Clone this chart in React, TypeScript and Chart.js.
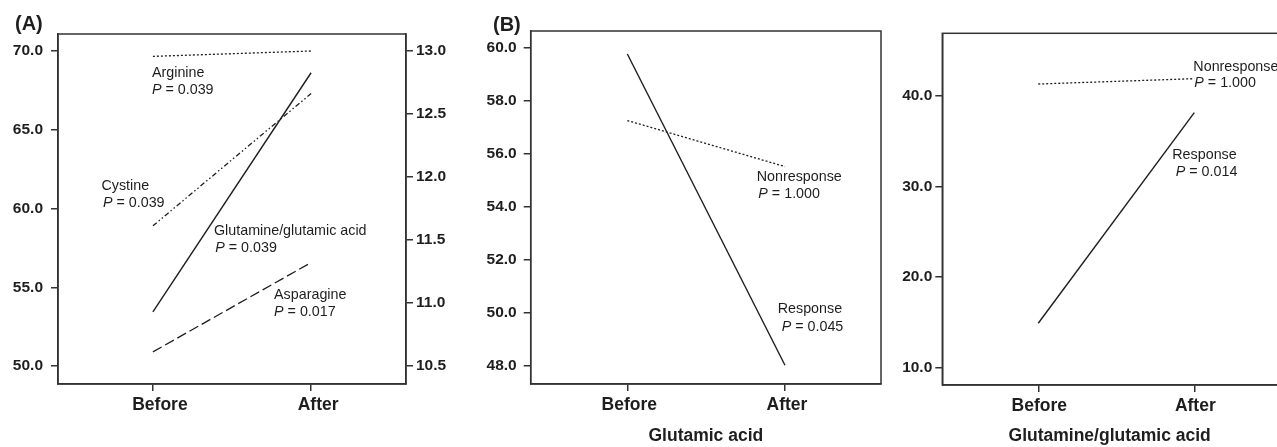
import React, { useEffect, useRef } from "react";
import { Chart, registerables } from "chart.js";

Chart.register(...registerables);

// ---------- data ----------
const xLabels = ["Before", "After"];

// Panel A
const arginine = [69.66, 70.0];
const cystine = [58.9, 67.3];
const glutamineGlutamicAcid = [53.44, 68.62];
const asparagine = [50.9, 56.57];
const leftTicksA = [50, 55, 60, 65, 70];
const rightTicksA = [10.5, 11.0, 11.5, 12.0, 12.5, 13.0];

// Panel B (glutamic acid)
const gluResponse = [59.78, 48.03];
const gluNonresponse = [57.27, 55.53];
const ticksB = [48, 50, 52, 54, 56, 58, 60];

// Panel C (glutamine/glutamic acid)
const glnGluResponse = [14.91, 38.16];
const glnGluNonresponse = [41.32, 41.91];
const ticksC = [10, 20, 30, 40];

// ---------- styles ----------
const FONT = "'Liberation Sans', Arial, Helvetica, sans-serif";
const INK = "#1e1e1e";
const AXIS = "#333";

type Ann = { text: string; x: number; y: number };
type Series = { values: number[]; dash: number[]; width: number };

type PanelSpec = {
  canvasLeft: number;
  canvasWidth: number;
  series: Series[];
  yMin: number;
  yMax: number;
  yTicks: number[];
  yAxisWidth: number;
  yPad: number;
  right?: { ticks: number[]; width: number; pad: number };
  xMin: number;
  xMax: number;
  xLabelOffset: number;
  xAxisHeight: number;
  xTitle?: string;
  padTop: number;
  padRight: number;
  annotations: Ann[];
  panelLabel?: { text: string; x: number; y: number };
  openRight?: boolean;
};

const panelA: PanelSpec = {
  canvasLeft: 0,
  canvasWidth: 460,
  series: [
    { values: arginine, dash: [2, 2], width: 1.3 },
    { values: cystine, dash: [5, 2.5, 1.5, 2.5, 1.5, 2.5], width: 1.3 },
    { values: glutamineGlutamicAcid, dash: [], width: 1.4 },
    { values: asparagine, dash: [10, 4], width: 1.3 },
  ],
  yMin: 48.86,
  yMax: 71.08,
  yTicks: leftTicksA,
  yAxisWidth: 58,
  yPad: 8,
  right: { ticks: rightTicksA, width: 54, pad: 3 },
  xMin: -0.6,
  xMax: 1.6,
  xLabelOffset: 7,
  xAxisHeight: 63,
  padTop: 34,
  padRight: 0,
  annotations: [
    { text: "Arginine", x: -0.006, y: 68.62 },
    { text: "P = 0.039", x: -0.006, y: 67.52 },
    { text: "Cystine", x: -0.325, y: 61.45 },
    { text: "P = 0.039", x: -0.316, y: 60.37 },
    { text: "Glutamine/glutamic acid", x: 0.386, y: 58.59 },
    { text: "P = 0.039", x: 0.394, y: 57.47 },
    { text: "Asparagine", x: 0.766, y: 54.51 },
    { text: "P = 0.017", x: 0.766, y: 53.41 },
  ],
  panelLabel: { text: "(A)", x: 15, y: 24 },
};

const panelB: PanelSpec = {
  canvasLeft: 460,
  canvasWidth: 430,
  series: [
    { values: gluResponse, dash: [], width: 1.4 },
    { values: gluNonresponse, dash: [2, 2], width: 1.3 },
  ],
  yMin: 47.32,
  yMax: 60.65,
  yTicks: ticksB,
  yAxisWidth: 70.7,
  yPad: 7,
  xMin: -0.613,
  xMax: 1.609,
  xLabelOffset: 2,
  xAxisHeight: 63,
  xTitle: "Glutamic acid",
  padTop: 31,
  padRight: 9,
  annotations: [
    { text: "Nonresponse", x: 0.821, y: 55.15 },
    { text: "P = 1.000", x: 0.831, y: 54.49 },
    { text: "Response", x: 0.954, y: 50.14 },
    { text: "P = 0.045", x: 0.979, y: 49.48 },
  ],
  panelLabel: { text: "(B)", x: 33, y: 25 },
};

const panelC: PanelSpec = {
  canvasLeft: 890,
  canvasWidth: 387,
  series: [
    { values: glnGluResponse, dash: [], width: 1.4 },
    { values: glnGluNonresponse, dash: [2, 2], width: 1.3 },
  ],
  yMin: 8.09,
  yMax: 46.92,
  yTicks: ticksC,
  yAxisWidth: 52.3,
  yPad: 3,
  xMin: -0.615,
  xMax: 1.53,
  xLabelOffset: 1,
  xAxisHeight: 62,
  xTitle: "Glutamine/glutamic acid",
  padTop: 33.3,
  padRight: 0,
  annotations: [
    { text: "Nonresponse", x: 0.994, y: 43.24 },
    { text: "P = 1.000", x: 1.0, y: 41.4 },
    { text: "Response", x: 0.859, y: 33.49 },
    { text: "P = 0.014", x: 0.881, y: 31.58 },
  ],
  openRight: true,
};

function axisCommon() {
  return {
    grid: {
      drawOnChartArea: false,
      drawTicks: true,
      tickLength: 7,
      color: AXIS,
      tickColor: AXIS,
      lineWidth: 1.5,
      tickWidth: 1.5,
    },
    border: { display: true, color: AXIS, width: 1.5 },
  };
}

function buildConfig(spec: PanelSpec): any {
  const tickFont = { family: FONT, size: 15.5, weight: "bold" as const };
  const scales: any = {
    x: {
      type: "linear",
      position: "bottom",
      min: spec.xMin,
      max: spec.xMax,
      afterBuildTicks: (s: any) => {
        s.ticks = xLabels.map((_, i) => ({ value: i }));
      },
      afterFit: (s: any) => {
        s.height = spec.xAxisHeight;
      },
      ticks: {
        callback: (v: any) => xLabels[Math.round(Number(v))] ?? "",
        labelOffset: spec.xLabelOffset,
        padding: 4,
        color: INK,
        font: { family: FONT, size: 17.5, weight: "bold" },
        maxRotation: 0,
        autoSkip: false,
      },
      title: {
        display: !!spec.xTitle,
        text: spec.xTitle || "",
        color: INK,
        font: { family: FONT, size: 17.5, weight: "bold" },
        padding: { top: 0, bottom: 0 },
      },
      ...axisCommon(),
    },
    y: {
      type: "linear",
      position: "left",
      min: spec.yMin,
      max: spec.yMax,
      afterBuildTicks: (s: any) => {
        s.ticks = spec.yTicks.map((v) => ({ value: v }));
      },
      afterFit: (s: any) => {
        s.width = spec.yAxisWidth;
      },
      ticks: {
        color: INK,
        font: tickFont,
        padding: spec.yPad,
        callback: (v: any) => Number(v).toFixed(1),
      },
      ...axisCommon(),
    },
  };

  if (spec.right) {
    const r = spec.right;
    const lLo = spec.yTicks[0];
    const lHi = spec.yTicks[spec.yTicks.length - 1];
    const rLo = r.ticks[0];
    const rHi = r.ticks[r.ticks.length - 1];
    const map = (l: number) => rLo + ((l - lLo) * (rHi - rLo)) / (lHi - lLo);
    scales.y1 = {
      type: "linear",
      position: "right",
      min: map(spec.yMin),
      max: map(spec.yMax),
      afterBuildTicks: (s: any) => {
        s.ticks = r.ticks.map((v) => ({ value: v }));
      },
      afterFit: (s: any) => {
        s.width = r.width;
      },
      ticks: {
        color: INK,
        font: tickFont,
        padding: r.pad,
        callback: (v: any) => Number(v).toFixed(1),
      },
      ...axisCommon(),
    };
  }

  const overlay = {
    id: "overlay",
    afterDraw(chart: any) {
      const ctx = chart.ctx as CanvasRenderingContext2D;
      const a = chart.chartArea;
      const xs = chart.scales.x;
      const ys = chart.scales.y;
      ctx.save();
      // frame
      ctx.strokeStyle = AXIS;
      ctx.lineWidth = 1.5;
      const w = spec.openRight ? a.right - a.left + 10 : a.right - a.left;
      ctx.strokeRect(a.left, a.top, w, a.bottom - a.top);
      // annotations
      ctx.fillStyle = INK;
      ctx.textBaseline = "middle";
      ctx.textAlign = "left";
      const f = 14.3;
      for (const an of spec.annotations) {
        const px = xs.getPixelForValue(an.x);
        const py = ys.getPixelForValue(an.y);
        if (an.text.startsWith("P ")) {
          ctx.font = `italic ${f}px ${FONT}`;
          ctx.fillText("P", px, py);
          const wP = ctx.measureText("P").width;
          ctx.font = `${f}px ${FONT}`;
          ctx.fillText(an.text.slice(1), px + wP, py);
        } else {
          ctx.font = `${f}px ${FONT}`;
          ctx.fillText(an.text, px, py);
        }
      }
      // panel label
      if (spec.panelLabel) {
        ctx.font = `bold 20px ${FONT}`;
        ctx.fillText(spec.panelLabel.text, spec.panelLabel.x, spec.panelLabel.y);
      }
      ctx.restore();
    },
  };

  return {
    type: "line",
    data: {
      datasets: spec.series.map((s, i) => ({
        label: `s${i}`,
        data: s.values.map((v, j) => ({ x: j, y: v })),
        borderColor: INK,
        borderWidth: s.width,
        borderDash: s.dash,
        pointRadius: 0,
        fill: false,
        tension: 0,
        yAxisID: "y",
        xAxisID: "x",
      })),
    },
    options: {
      responsive: false,
      animation: false,
      devicePixelRatio: 1,
      layout: {
        padding: { top: spec.padTop, right: spec.padRight, bottom: 0, left: 0 },
      },
      plugins: {
        legend: { display: false },
        tooltip: { enabled: false },
        title: { display: false },
      },
      scales,
    },
    plugins: [overlay],
  };
}

function Panel({ spec }: { spec: PanelSpec }) {
  const ref = useRef<HTMLCanvasElement | null>(null);
  useEffect(() => {
    if (!ref.current) return;
    const chart = new Chart(ref.current, buildConfig(spec));
    return () => chart.destroy();
  }, [spec]);
  return (
    <canvas
      ref={ref}
      width={spec.canvasWidth}
      height={447}
      style={{
        position: "absolute",
        left: spec.canvasLeft,
        top: 0,
        width: spec.canvasWidth,
        height: 447,
      }}
    />
  );
}

export default function App() {
  return (
    <div
      style={{
        position: "absolute",
        left: 0,
        top: 0,
        width: 1277,
        height: 447,
        overflow: "hidden",
        background: "#fff",
      }}
    >
      <Panel spec={panelA} />
      <Panel spec={panelB} />
      <Panel spec={panelC} />
    </div>
  );
}
